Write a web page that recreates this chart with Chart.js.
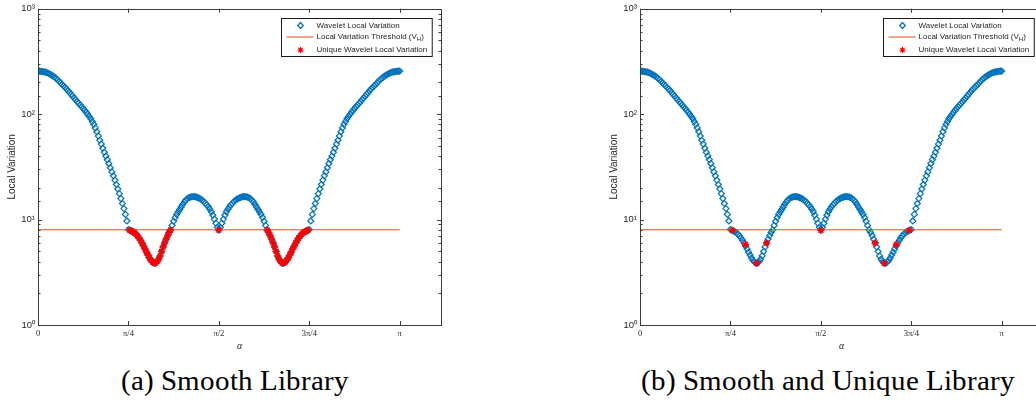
<!DOCTYPE html>
<html>
<head>
<meta charset="utf-8">
<script src="https://cdn.jsdelivr.net/npm/chart.js@4"></script>
<style>
  @font-face { font-family: "CapSerif"; src: local("Liberation Serif"), local("LiberationSerif-Regular"), local("DejaVu Serif"); }
  html, body { margin: 0; padding: 0; background: #fff; }
  body { width: 1036px; height: 405px; position: relative; overflow: hidden; }
  .panel { position: absolute; top: 0; width: 450px; height: 360px; }
  .caption { position: absolute; top: 364px; font-family: "CapSerif", "Liberation Serif", Times, "DejaVu Serif", serif; font-size: 29px; color: #000; white-space: nowrap; transform: translateX(-50%); }
</style>
</head>
<body>
<div class="panel" style="left:0"><canvas id="chartA"></canvas></div>
<div class="panel" style="left:602px"><canvas id="chartB"></canvas></div>
<div class="caption" style="left:235px">(a) Smooth Library</div>
<div class="caption" style="left:828px">(b) Smooth and Unique Library</div>
<script>
(() => {

//----- Data -----//

    // alpha sampled every 0.75 degree from 0 to 180
    var alphaStepDeg = 0.75

    var localVariation = [
        256, 255.5, 254.5, 253.5, 252, 250, 247, 244, 239, 234.5,
        229.5, 224, 218, 212, 205, 198, 191, 185, 179, 173,
        167, 160, 154, 148, 142, 137, 131.5, 126.5, 122, 117.5,
        113, 108.5, 104, 99.5, 95, 90.5, 85, 80, 74, 68,
        62, 56.5, 52, 47.5, 43.5, 40, 37, 34, 31, 28.3,
        26, 23.7, 21.5, 19.5, 17.6, 15.8, 14.2, 12.7, 11.2, 9.7,
        8.05, 7.92, 7.8, 7.65, 7.5, 7.28, 7.0, 6.7, 6.35, 5.98,
        5.62, 5.27, 4.9, 4.6, 4.32, 4.1, 3.95, 3.87, 3.87, 4.0,
        4.2, 4.52, 4.98, 5.5, 6.0, 6.52, 7.05, 7.55, 7.98, 8.8,
        9.65, 10.45, 11.2, 11.8, 12.45, 13.15, 13.9, 14.65, 15.25, 15.75,
        16.1, 16.35, 16.45, 16.5, 16.5, 16.35, 16.15, 15.9, 15.6, 15.25,
        14.8, 14.25, 13.8, 13.2, 12.55, 11.85, 11.0, 10.1, 9.25, 8.45,
        7.95,
        8.45, 9.25, 10.1, 11.0, 11.85, 12.55, 13.2, 13.8, 14.25, 14.8,
        15.25, 15.6, 15.9, 16.15, 16.35, 16.5, 16.5, 16.45, 16.35, 16.1,
        15.75, 15.25, 14.65, 13.9, 13.15, 12.45, 11.8, 11.2, 10.45, 9.65,
        8.8, 7.98, 7.55, 7.05, 6.52, 6.0, 5.5, 4.98, 4.52, 4.2,
        4.0, 3.87, 3.87, 3.95, 4.1, 4.32, 4.6, 4.9, 5.27, 5.62,
        5.98, 6.35, 6.7, 7.0, 7.28, 7.5, 7.65, 7.8, 7.92, 8.05,
        9.7, 11.2, 12.7, 14.2, 15.8, 17.6, 19.5, 21.5, 23.7, 26,
        28.3, 31, 34, 37, 40, 43.5, 47.5, 52, 56.5, 62,
        68, 74, 80, 85, 90.5, 95, 99.5, 104, 108.5, 113,
        117.5, 122, 126.5, 131.5, 137, 142, 148, 154, 160, 167,
        173, 179, 185, 191, 198, 205, 212, 218, 224, 229.5,
        234.5, 239, 244, 247, 250, 252, 253.5, 254.5, 255.5, 256
    ]

    var thresholdValue = 8
    var thresholdRange = [0, Math.PI]

    // unique points of the second library (degrees, value)
    var uniqueDegB = [46, 52.5, 58, 63, 90, 117, 121.5, 127.5, 134]
    var uniqueValB = [7.9, 5.8, 3.85, 6.0, 7.9, 6.0, 3.85, 5.8, 7.9]

    var xMax = 3.5
    var xTickValues = [0, Math.PI / 4, Math.PI / 2, 3 * Math.PI / 4, Math.PI]
    var xTickLabels = ['0', 'π/4', 'π/2', '3π/4', 'π']
    var yTickLabels = ['10⁰', '10¹', '10²', '10³']

    var legendLabels = ['Wavelet Local Variation', 'Local Variation Threshold (V_H)', 'Unique Wavelet Local Variation']

    var blue = '#0072BD'
    var orange = '#D95319'
    var red = '#FF0000'
    var axisColor = '#262626'
    var sans = '"Liberation Sans", Arial, sans-serif'
    var serif = '"Liberation Serif", "Times New Roman", serif'

//----- Functions -----//

    var curvePoints = localVariation.map((v, i) => ({ x: i * alphaStepDeg * Math.PI / 180, y: v }))

    function drawStar (ctx, x, y, r) {
        ctx.moveTo(x - r, y); ctx.lineTo(x + r, y)
        ctx.moveTo(x, y - r); ctx.lineTo(x, y + r)
        var d = r * Math.SQRT1_2
        ctx.moveTo(x - d, y - d); ctx.lineTo(x + d, y + d)
        ctx.moveTo(x - d, y + d); ctx.lineTo(x + d, y - d)
    }

    var axesBox = {
        id: 'axesBox',
        afterDraw (chart) {
            var ctx = chart.ctx
            var a = chart.chartArea
            var xs = chart.scales.x
            var ys = chart.scales.y
            ctx.save()
            ctx.strokeStyle = '#3c3c3c'
            ctx.lineWidth = 1
            ctx.beginPath()
            xs.ticks.forEach(t => {
                var px = Math.round(xs.getPixelForValue(t.value)) + 0.5
                ctx.moveTo(px, a.bottom); ctx.lineTo(px, a.bottom - 4)
                ctx.moveTo(px, a.top); ctx.lineTo(px, a.top + 4)
            })
            ys.ticks.forEach(t => {
                var py = Math.round(ys.getPixelForValue(t.value)) + 0.5
                var lg = Math.log10(t.value)
                var len = Math.abs(lg - Math.round(lg)) < 1e-6 ? 4 : 2.5
                ctx.moveTo(a.left, py); ctx.lineTo(a.left + len, py)
                ctx.moveTo(a.right, py); ctx.lineTo(a.right - len, py)
            })
            ctx.stroke()
            ctx.strokeRect(Math.round(a.left) + 0.5, Math.round(a.top) + 0.5,
                Math.round(a.right - a.left), Math.round(a.bottom - a.top))

            // legend box
            ctx.font = '8px ' + sans
            var widths = legendLabels.map(l => ctx.measureText(l.replace('_H', 'H')).width)
            var boxW = Math.max.apply(null, widths) + 40
            var boxH = 38
            var left = Math.round(a.right - 9 - boxW) + 0.5
            var top = Math.round(a.top + 9) + 0.5
            ctx.fillStyle = '#fff'
            ctx.fillRect(left, top, boxW, boxH)
            ctx.strokeStyle = '#1a1a1a'
            ctx.strokeRect(left, top, boxW, boxH)

            var rows = [top + 7, top + 18.5, top + 31.5]
            var mx = left + 19
            // diamond
            ctx.strokeStyle = blue
            ctx.lineWidth = 1.2
            ctx.beginPath()
            ctx.moveTo(mx - 2.8, rows[0]); ctx.lineTo(mx, rows[0] - 3)
            ctx.lineTo(mx + 2.8, rows[0]); ctx.lineTo(mx, rows[0] + 3)
            ctx.closePath()
            ctx.stroke()
            // line
            ctx.strokeStyle = orange
            ctx.lineWidth = 1
            ctx.beginPath()
            ctx.moveTo(left + 5, rows[1]); ctx.lineTo(left + 32, rows[1])
            ctx.stroke()
            // star
            ctx.strokeStyle = red
            ctx.lineWidth = 1.2
            ctx.beginPath()
            drawStar(ctx, mx, rows[2], 3)
            ctx.stroke()

            ctx.fillStyle = axisColor
            ctx.textBaseline = 'middle'
            ctx.textAlign = 'left'
            var tx = left + 35
            legendLabels.forEach((l, i) => {
                var parts = l.split('_H')
                if (parts.length === 1) {
                    ctx.fillText(l, tx, rows[i])
                } else {
                    ctx.fillText(parts[0], tx, rows[i])
                    var w = ctx.measureText(parts[0]).width
                    ctx.font = '6px ' + sans
                    ctx.fillText('H', tx + w, rows[i] + 2.5)
                    var wh = ctx.measureText('H').width
                    ctx.font = '8px ' + sans
                    ctx.fillText(parts[1], tx + w + wh, rows[i])
                }
            })
            ctx.restore()
        }
    }

    function makeChart (canvasId, uniquePoints) {
        return new Chart(document.getElementById(canvasId), {
            type: 'line',
            data: {
                datasets: [
                    {
                        label: legendLabels[0],
                        data: curvePoints,
                        showLine: false,
                        pointStyle: 'rectRot',
                        pointRadius: 3,
                        pointBorderWidth: 1.2,
                        pointBorderColor: blue,
                        pointBackgroundColor: 'rgba(0,0,0,0)',
                        order: 3
                    },
                    {
                        label: legendLabels[1],
                        data: thresholdRange.map(x => ({ x: x, y: thresholdValue })),
                        borderColor: orange,
                        borderWidth: 1,
                        pointRadius: 0,
                        order: 2
                    },
                    {
                        label: legendLabels[2],
                        data: uniquePoints,
                        showLine: false,
                        pointStyle: 'star',
                        pointRadius: 3.5,
                        pointBorderWidth: 1.3,
                        pointBorderColor: red,
                        pointBackgroundColor: red,
                        order: 1
                    }
                ]
            },
            options: {
                responsive: true,
                maintainAspectRatio: false,
                animation: false,
                layout: { padding: { top: 7, right: 9, left: 0, bottom: 0 } },
                plugins: { legend: { display: false }, tooltip: { enabled: false } },
                scales: {
                    x: {
                        type: 'linear',
                        min: 0,
                        max: xMax,
                        afterBuildTicks: s => { s.ticks = xTickValues.map(v => ({ value: v })) },
                        afterFit: s => { s.height = 35 },
                        grid: { display: false, drawTicks: false },
                        border: { display: false },
                        ticks: {
                            padding: 4,
                            maxRotation: 0,
                            autoSkip: false,
                            color: axisColor,
                            font: { family: serif, size: 8.5 },
                            callback: (v, i) => xTickLabels[i]
                        },
                        title: {
                            display: true,
                            text: 'α',
                            color: axisColor,
                            font: { family: serif, size: 10, style: 'italic' },
                            padding: { top: 0, bottom: 8 }
                        }
                    },
                    y: {
                        type: 'logarithmic',
                        min: 1,
                        max: 1000,
                        afterFit: s => { s.width = 38 },
                        grid: { display: false, drawTicks: false },
                        border: { display: false },
                        ticks: {
                            padding: 3,
                            autoSkip: false,
                            color: axisColor,
                            font: { family: sans, size: 9.5 },
                            callback: v => {
                                var lg = Math.log10(v)
                                return Math.abs(lg - Math.round(lg)) < 1e-6 ? yTickLabels[Math.round(lg)] : ''
                            }
                        },
                        title: {
                            display: true,
                            text: 'Local Variation',
                            color: axisColor,
                            font: { family: sans, size: 10 },
                            padding: { top: 6, bottom: 0 }
                        }
                    }
                }
            },
            plugins: [axesBox]
        })
    }

//----- Call functions -----//

    var uniqueA = curvePoints.filter(p => p.y < thresholdValue)
    var uniqueB = uniqueDegB.map((d, i) => ({ x: d * Math.PI / 180, y: uniqueValB[i] }))

    makeChart('chartA', uniqueA)
    makeChart('chartB', uniqueB)

})();
</script>
</body>
</html>
